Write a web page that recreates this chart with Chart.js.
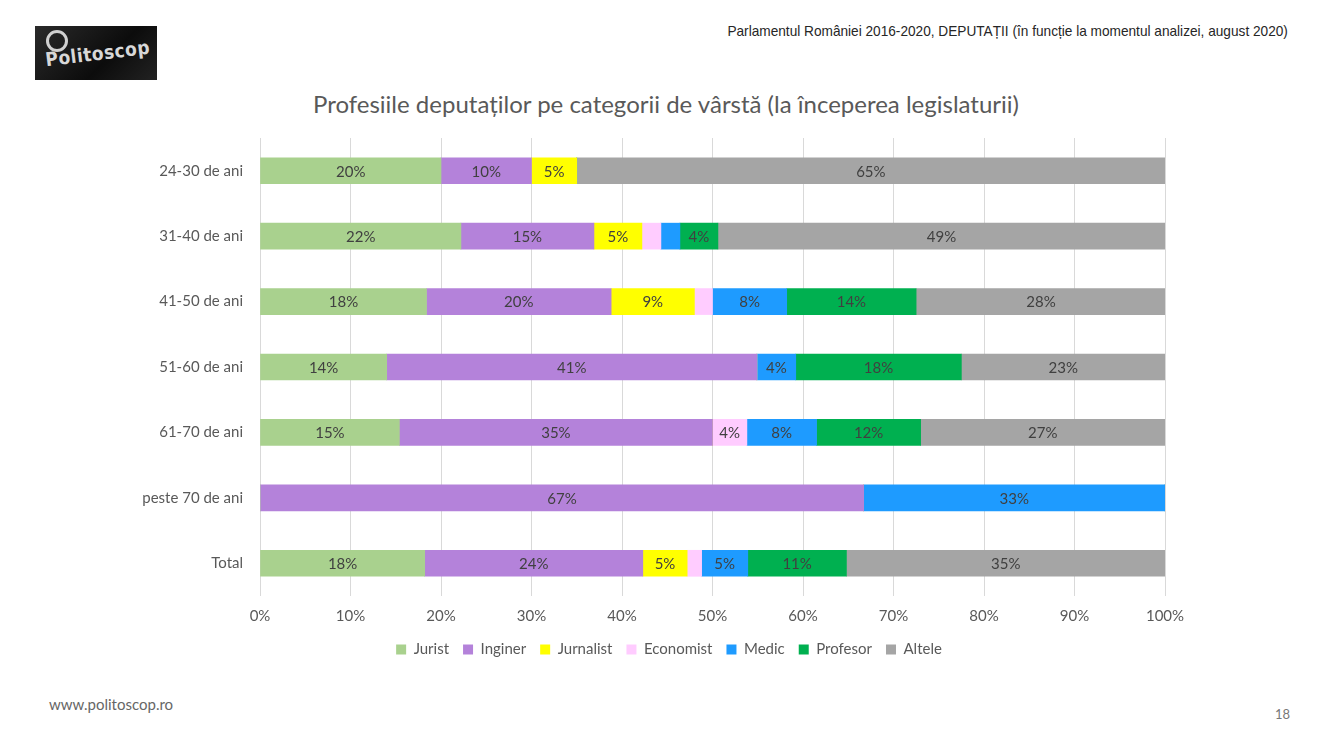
<!DOCTYPE html>
<html>
<head>
<meta charset="utf-8">
<script src="https://cdn.jsdelivr.net/npm/chart.js@4.4.0/dist/chart.umd.min.js"></script>
<style>
  body { margin: 0; background: #fff; width: 1332px; height: 750px; overflow: hidden; position: relative; font-family: Lato, "Open Sans", sans-serif; }
  #logo { position: absolute; left: 35px; top: 26px; width: 122px; height: 54px; background: linear-gradient(135deg, #2a2a2a, #0c0c0c 60%, #222); overflow: hidden; }
  #logo span { position: absolute; left: 10px; top: 16px; color: #d8d8d8; font: bold 19px "Liberation Sans Narrow", "DejaVu Sans Condensed", sans-serif; transform: rotate(-7deg); letter-spacing: 0.5px; }
  #logo b { position: absolute; left: 11px; top: 4px; width: 16px; height: 16px; border: 3px solid #d0d0d0; border-radius: 50%; }
  #source { position: absolute; right: 44px; top: 22px; font: 15px "Liberation Sans", sans-serif; color: #262626; transform: scaleX(0.91); transform-origin: right center; white-space: nowrap; }
  #title { position: absolute; left: 0; width: 1332px; top: 89px; text-align: center; font: 24px Lato, "Open Sans", sans-serif; color: #595959; }
  #web { position: absolute; left: 49px; top: 695px; font: 15px Lato, sans-serif; color: #666; }
  #page { position: absolute; left: 1275px; top: 706px; font: 13px Lato, sans-serif; color: #777; }
  #wrap { position: absolute; left: 0; top: 120px; width: 1332px; height: 560px; }
</style>
</head>
<body>
<div id="logo"><b></b><span>Politoscop</span></div>
<div id="source">Parlamentul României 2016-2020, DEPUTAȚII (în funcție la momentul analizei, august 2020)</div>
<div id="title">Profesiile deputaților pe categorii de vârstă (la începerea legislaturii)</div>
<div id="wrap"><canvas id="myChart"></canvas></div>
<div id="web">www.politoscop.ro</div>
<div id="page">18</div>
<script>
// data set
var categories = ["24-30 de ani", "31-40 de ani", "41-50 de ani", "51-60 de ani", "61-70 de ani", "peste 70 de ani", "Total"];
var jurist    = [20, 22.2, 18.4, 14.0, 15.4, 0,    18.2];
var inginer   = [10, 14.7, 20.4, 40.9, 34.6, 66.7, 24.1];
var jurnalist = [5,  5.3,  9.2,  0,    0,    0,    4.9];
var economist = [0,  2.1,  2.0,  0,    3.8,  0,    1.6];
var medic     = [0,  2.1,  8.2,  4.3,  7.7,  33.3, 5.1];
var profesor  = [0,  4.2,  14.3, 18.3, 11.5, 0,    10.9];
var altele    = [65, 49.4, 27.6, 22.5, 27.0, 0,    35.2];
var xTicks = [0, 10, 20, 30, 40, 50, 60, 70, 80, 90, 100];

const txt = "#595959";
const font = "Lato, 'Open Sans', sans-serif";

// labels inside the segments
const segLabels = {
  id: "segLabels",
  afterDatasetsDraw(chart) {
    const ctx = chart.ctx;
    ctx.save();
    ctx.font = "15px " + font;
    ctx.fillStyle = "#404040";
    ctx.textAlign = "center";
    ctx.textBaseline = "middle";
    chart.data.datasets.forEach((ds, i) => {
      chart.getDatasetMeta(i).data.forEach((bar, j) => {
        const v = ds.data[j];
        if (!v || v < 3.5) return;
        ctx.fillText(Math.round(v) + "%", (bar.x + bar.base) / 2, bar.y + 1);
      });
    });
    ctx.restore();
  }
};

function ds(label, data, color) {
  return { label: label, data: data, backgroundColor: color, barThickness: 26 };
}

new Chart("myChart", {
  type: "bar",
  data: {
    labels: categories,
    datasets: [
      ds("Jurist", jurist, "#a9d18e"),
      ds("Inginer", inginer, "#b482da"),
      ds("Jurnalist", jurnalist, "#ffff00"),
      ds("Economist", economist, "#ffccff"),
      ds("Medic", medic, "#1e9bff"),
      ds("Profesor", profesor, "#00b050"),
      ds("Altele", altele, "#a5a5a5")
    ]
  },
  options: {
    indexAxis: "y",
    animation: false,
    responsive: true,
    maintainAspectRatio: false,
    layout: { padding: { left: 6, right: 0, top: 9, bottom: 13 } },
    scales: {
      x: {
        stacked: true,
        min: 0,
        max: 100,
        afterBuildTicks: s => { s.ticks = xTicks.map(v => ({ value: v })); },
        afterFit: s => { s.height = 32; },
        ticks: { color: txt, font: { size: 15, family: font }, padding: 11, callback: v => v + "%" },
        grid: { color: "#d9d9d9", drawTicks: false },
        border: { display: false }
      },
      y: {
        stacked: true,
        afterFit: s => { s.width = 254; },
        ticks: { color: txt, font: { size: 15, family: font }, padding: 9 },
        grid: { display: false },
        border: { display: false }
      },
      // empty right-hand spacer so the plot ends at 100% while the legend stays centred
      yRight: {
        type: "category",
        position: "right",
        afterFit: s => { s.width = 167; },
        ticks: { display: false },
        grid: { display: false },
        border: { display: false }
      }
    },
    plugins: {
      legend: {
        position: "bottom",
        labels: { color: txt, font: { size: 15, family: font }, boxWidth: 10, boxHeight: 10, padding: 14 }
      },
      tooltip: { enabled: false }
    }
  },
  plugins: [segLabels]
});
</script>
</body>
</html>
